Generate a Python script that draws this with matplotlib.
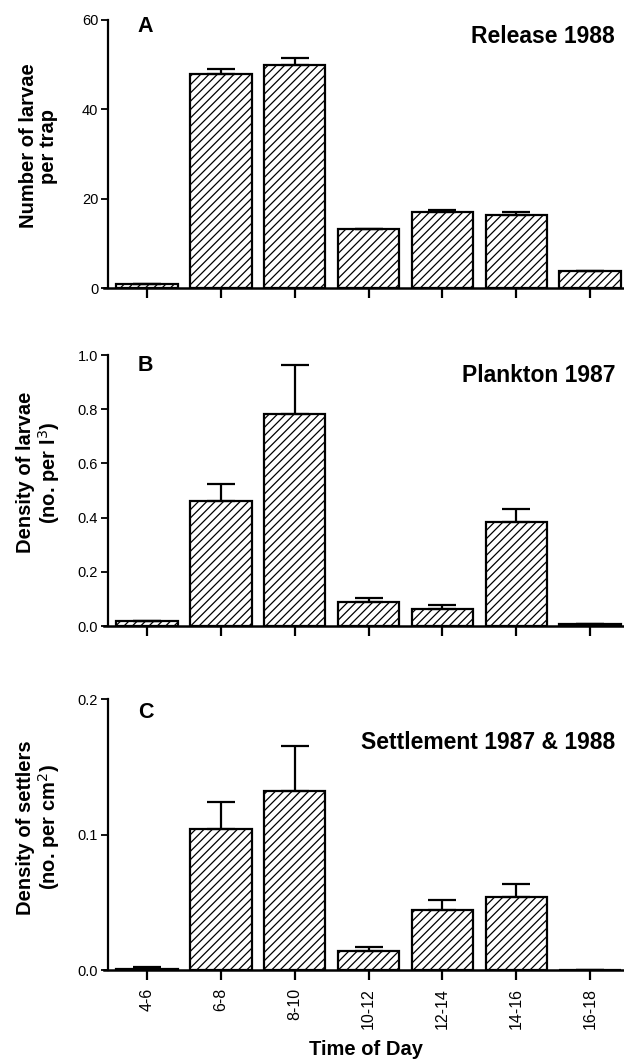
import numpy as np
import matplotlib
matplotlib.use("Agg")
import matplotlib.pyplot as plt

times = ["4-6", "6-8", "8-10", "10-12", "12-14", "14-16", "16-18"]

release_1988 = [1.0, 48.0, 50.0, 13.3, 17.1, 16.4, 3.7]
release_err = [0.0, 1.1, 1.4, 0.0, 0.4, 0.7, 0.0]

plankton_1987 = [0.018, 0.462, 0.784, 0.090, 0.064, 0.384, 0.009]
plankton_err = [0.0, 0.061, 0.180, 0.012, 0.012, 0.049, 0.0]

settle_8788 = [0.001, 0.104, 0.1323, 0.0138, 0.0443, 0.0542, 0.0]
settle_err = [0.001, 0.020, 0.0332, 0.0029, 0.0077, 0.0091, 0.0]

plt.rcParams['font.family'] = ['Liberation Sans', 'DejaVu Sans']
plt.rcParams['hatch.linewidth'] = 0.9
tick_font = ['Liberation Sans Narrow', 'Liberation Sans', 'DejaVu Sans']

fig = plt.figure(figsize=(6.24, 10.62), dpi=100)

panels = [
    dict(vals=release_1988, err=release_err, rect=[0.173, 0.7288, 0.827, 0.2524],
         yticks=[0, 20, 40, 60], ylim=60, fmt="{:.0f}", letter="A", letter_y=0.974,
         title="Release 1988", title_y=0.937,
         ylabel="Number of larvae\nper trap", ylab_y=0.8625),
    dict(vals=plankton_1987, err=plankton_err, rect=[0.173, 0.4105, 0.827, 0.2552],
         yticks=[0.0, 0.2, 0.4, 0.6, 0.8, 1.0], ylim=1.0, fmt="{:.1f}", letter="B", letter_y=0.963,
         title="Plankton 1987", title_y=0.926,
         ylabel="Density of larvae\n(no. per l$^3$)", ylab_y=0.555),
    dict(vals=settle_8788, err=settle_err, rect=[0.173, 0.0866, 0.827, 0.2552],
         yticks=[0.0, 0.1, 0.2], ylim=0.2, fmt="{:.1f}", letter="C", letter_y=0.952,
         title="Settlement 1987 & 1988", title_y=0.841,
         ylabel="Density of settlers\n(no. per cm$^2$)", ylab_y=0.221),
]

x = np.arange(len(times))

for i, p in enumerate(panels):
    ax = fig.add_axes(p['rect'])
    ax.bar(x, p['vals'], width=0.83, color='white', edgecolor='black',
           linewidth=1.6, hatch='////', zorder=2)
    ax.errorbar(x, p['vals'], yerr=[np.zeros(len(x)), p['err']], fmt='none',
                ecolor='black', elinewidth=1.6, capsize=10, capthick=1.6, zorder=3)
    ax.set_xlim(-0.53, 6.46)
    ax.set_ylim(0, p['ylim'])
    ax.spines['top'].set_visible(False)
    ax.spines['right'].set_visible(False)
    ax.spines['left'].set_linewidth(1.6)
    ax.spines['bottom'].set_linewidth(1.8)
    ax.spines['bottom'].set_bounds(-0.58, 6.46)
    ax.set_yticks(p['yticks'])
    ax.set_yticklabels([p['fmt'].format(v) for v in p['yticks']], family=tick_font, fontsize=10.5)
    ax.set_xticks(x)
    ax.tick_params(axis='y', direction='out', length=5, width=1.3, pad=2)
    ax.tick_params(axis='x', direction='out', length=7, width=1.6, pad=6)
    if i == 2:
        ax.set_xticklabels(times, rotation=90, family=tick_font, fontsize=11.5)
    else:
        ax.set_xticklabels([])
    ax.text(0.058, p['letter_y'], p['letter'], transform=ax.transAxes, fontsize=15.5,
            fontweight='bold', ha='left', va='center')
    ax.text(0.983, p['title_y'], p['title'], transform=ax.transAxes, fontsize=16.5,
            fontweight='bold', ha='right', va='center')
    fig.text(0.062, p['ylab_y'], p['ylabel'], rotation=90, ha='center', va='center',
             multialignment='center', fontsize=14.5, fontweight='bold', linespacing=1.05)

fig.text(0.586, 0.0113, "Time of Day", ha='center', va='center', fontsize=14.5, fontweight='bold')

fig.savefig("out.png", dpi=100)
